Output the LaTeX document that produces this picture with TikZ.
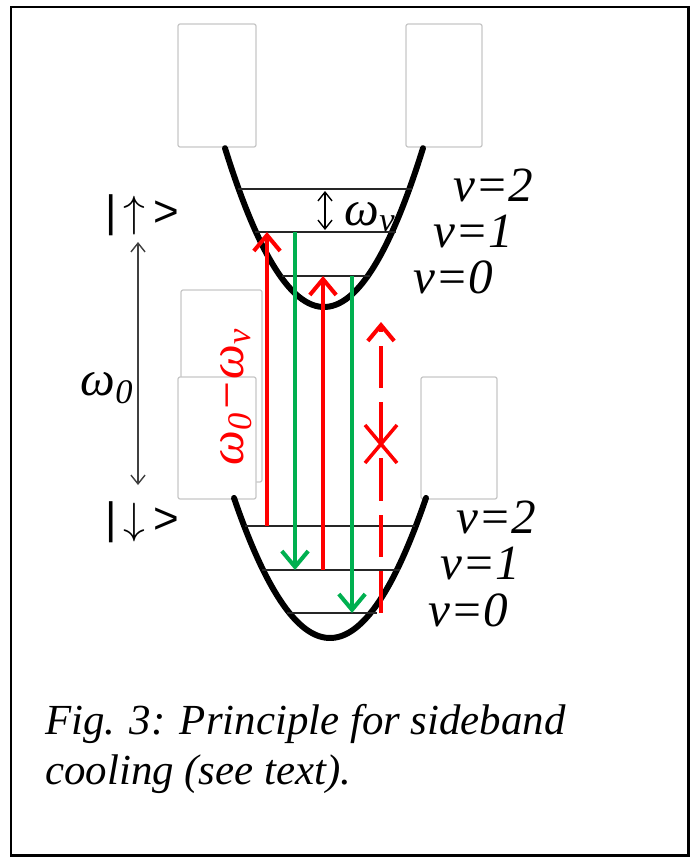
\documentclass[tikz,border=0pt]{standalone}
\usepackage{fontspec}
\setmainfont{Liberation Serif}
\newfontfamily\ketfont{Liberation Sans}
\usepackage{xcolor}
\usetikzlibrary{arrows.meta}
\definecolor{laserred}{HTML}{FF0000}
\definecolor{decaygreen}{HTML}{00B050}

\begin{document}
\begin{tikzpicture}[x=0.02cm,y=-0.02cm,
  box/.style={draw=black!22,fill=white,line width=0.7pt,rounded corners=1.2pt},
  well/.style={line width=3.4pt,line cap=round},
  level/.style={line width=0.8pt,black!85},
  lbl/.style={font=\fontsize{28}{30}\selectfont\itshape,inner sep=0pt},
  ket/.style={font=\fontsize{25}{27}\selectfont\ketfont,inner sep=0pt},
  beam/.style={line width=2.3pt,-{Straight Barb[length=9pt,width=15pt]}},
  redbeam/.style={beam,laserred},
  greenbeam/.style={beam,decaygreen},
  gap/.style={line width=0.8pt,{Straight Barb[length=5pt,width=8pt]}-{Straight Barb[length=5pt,width=8pt]}}]
\useasboundingbox (0,0) rectangle (693,858);
\draw[line width=1.7pt] (11,7) rectangle (688,855);
\draw[box] (178,24) rectangle (256,147);
\draw[box] (406,24) rectangle (482,147);
\draw[box] (181,290) rectangle (262,482);
\draw[box] (178,377) rectangle (256,499);
\draw[box] (421,377) rectangle (497,499);
\draw[well] plot[domain=-99:99,samples=60,smooth] ({324+\x},{307-0.0162*\x*\x});
\draw[well] plot[domain=-96:96,samples=60,smooth] ({330+\x},{638-0.0152*\x*\x});
\draw[level] (238,189)--(412,189) (255,232)--(396,232) (282,276)--(370,276);
\draw[level] (245,526)--(415,526) (262,570)--(400,570) (287,613)--(377,613);
\node[lbl] (uv2) at (493,185) {v=2};
\node[lbl] (uv1) at (473,232) {v=1};
\node[lbl] (uv0) at (453,277) {v=0};
\node[lbl] (lv2) at (496,517) {v=2};
\node[lbl] (lv1) at (480,563) {v=1};
\node[lbl] (lv0) at (468,610) {v=0};
\node[ket] (up) at (142,215) {|\,\(\Big\uparrow\)\,>};
\node[ket] (down) at (142,522) {|\,\(\Big\downarrow\)\,>};
\node[lbl] (w0) at (107,388) {ω\textsubscript{0}};
\node[lbl] (wv) at (370,217) {ω\textsubscript{v}};
\coordinate (w0a) at (138,242);
\coordinate (w0b) at (138,485);
\draw[gap,black!75] (w0a)--(w0b);
\coordinate (wva) at (325,191);
\coordinate (wvb) at (325,230);
\draw[gap] (wva)--(wvb);
\coordinate (r1a) at (267,526);
\coordinate (r1b) at (267,232);
\coordinate (g1a) at (295,232);
\coordinate (g1b) at (295,570);
\coordinate (r2a) at (323,570);
\coordinate (r2b) at (323,276);
\coordinate (g2a) at (352,276);
\coordinate (g2b) at (352,613);
\coordinate (r3a) at (381,613);
\coordinate (r3b) at (381,322);
\draw[redbeam] (r1a)--(r1b);
\draw[greenbeam] (g1a)--(g1b);
\draw[redbeam] (r2a)--(r2b);
\draw[greenbeam] (g2a)--(g2b);
\draw[redbeam,dash pattern=on 24pt off 8pt] (r3a)--(r3b);
\draw[laserred,line width=2pt] (365,425)--(397,463) (365,463)--(397,425);
\node[lbl,laserred,rotate=90] (det) at (236,397) {ω\textsubscript{0}−ω\textsubscript{v}};
\node[font=\fontsize{24.4}{28.4}\selectfont\itshape,anchor=north west,align=left,inner sep=0pt] (cap) at (45,704) {Fig. 3: Principle for sideband\\cooling (see text).};
\end{tikzpicture}
\end{document}
